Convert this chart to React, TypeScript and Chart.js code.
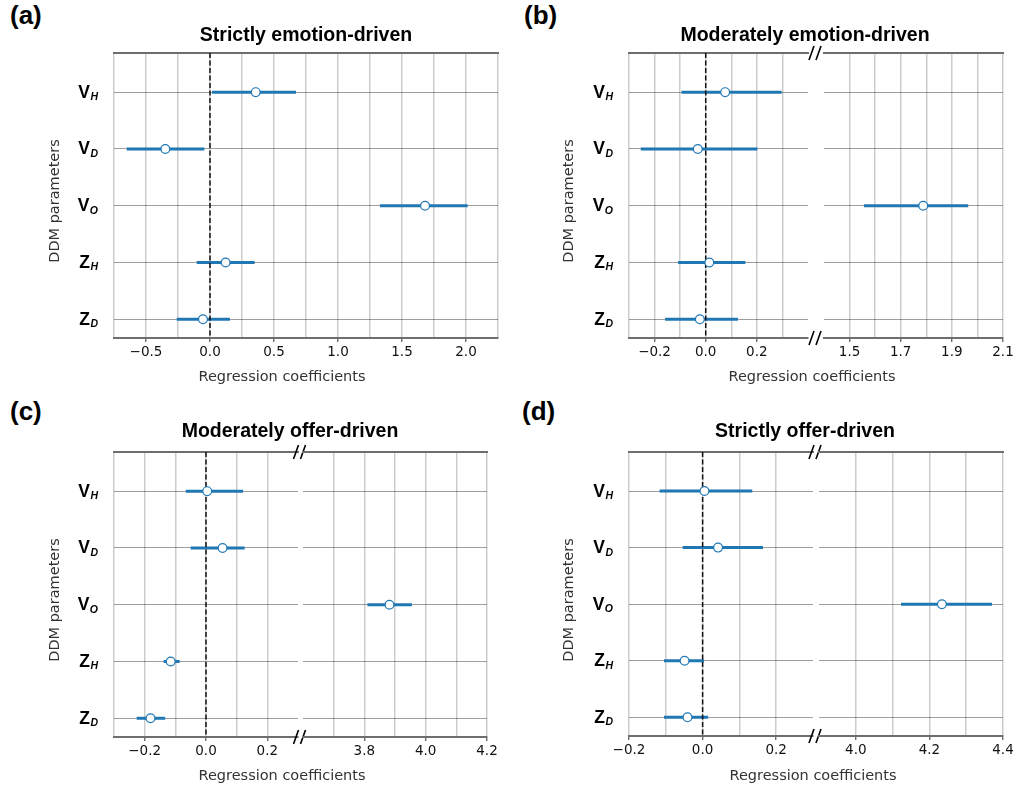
import React, { useEffect, useRef } from 'react';
import { Chart, registerables } from 'chart.js';

Chart.register(...registerables);

// ---------------- data ----------------
const paramMain = ['V', 'V', 'V', 'Z', 'Z'];
const paramSub = ['H', 'D', 'O', 'H', 'D'];

// (a) Strictly emotion-driven
const estA = [0.357, -0.349, 1.68, 0.122, -0.055];
const loA = [0.016, -0.651, 1.328, -0.104, -0.26];
const hiA = [0.672, -0.044, 2.013, 0.349, 0.156];
// (b) Moderately emotion-driven
const estB = [0.076, -0.031, 1.788, 0.014, -0.023];
const loB = [-0.095, -0.254, 1.556, -0.108, -0.159];
const hiB = [0.297, 0.202, 1.964, 0.155, 0.126];
// (c) Moderately offer-driven
const estC = [0.004, 0.054, 3.882, -0.115, -0.181];
const loC = [-0.066, -0.05, 3.81, -0.138, -0.226];
const hiC = [0.121, 0.126, 3.955, -0.086, -0.133];
// (d) Strictly offer-driven
const estD = [0.005, 0.042, 4.234, -0.049, -0.041];
const loD = [-0.117, -0.054, 4.123, -0.105, -0.105];
const hiD = [0.135, 0.164, 4.37, 0.004, 0.015];

// tick labels
const ticksA = [-0.5, 0.0, 0.5, 1.0, 1.5, 2.0];
const ticksBLeft = [-0.2, 0.0, 0.2];
const ticksBRight = [1.5, 1.7, 1.9, 2.1];
const ticksCLeft = [-0.2, 0.0, 0.2];
const ticksCRight = [3.8, 4.0, 4.2];
const ticksDLeft = [-0.2, 0.0, 0.2];
const ticksDRight = [4.0, 4.2, 4.4];

// axis limits
const Y_MIN = -0.69;
const Y_MAX = 4.33;

const BLUE = '#1f77b4';
const SPINE = '#6e6e6e';
const TICK_FONT = '"DejaVu Sans", sans-serif';
const LABEL_FONT = '"Liberation Sans", Arial, sans-serif';

type Seg = {
  L: number; T: number; R: number; B: number;
  min: number; max: number; step: number;
  labels: number[];
  showY?: boolean;
  breakGap?: number;
  hideEdge?: 'left' | 'right';
};

function fmt(v: number): string {
  if (Math.abs(v) < 1e-9) return '0.0';
  return v.toFixed(1).replace('-', '\u2212');
}

function SegChart({ seg, est, lo, hi }: { seg: Seg; est: number[]; lo: number[]; hi: number[] }) {
  const ref = useRef<HTMLCanvasElement>(null);
  const padL = seg.showY ? 70 : 24;
  const padR = 24;
  const padT = 14;
  const padB = 34;
  const W = seg.R - seg.L + padL + padR;
  const H = seg.B - seg.T + padT + padB;

  useEffect(() => {
    const canvas = ref.current;
    if (!canvas) return;
    const n = Math.round((seg.max - seg.min) / seg.step);
    const gridVals: number[] = [];
    for (let i = 0; i <= n; i++) gridVals.push(+(seg.min + i * seg.step).toFixed(6));
    const isLabel = (v: number) => seg.labels.some((l) => Math.abs(l - v) < 1e-6);
    const isHiddenEdge = (v: number) =>
      (seg.hideEdge === 'right' && Math.abs(v - seg.max) < 1e-6) ||
      (seg.hideEdge === 'left' && Math.abs(v - seg.min) < 1e-6);

    const datasets: any[] = [];
    lo.forEach((l, i) => {
      datasets.push({
        data: [{ x: l, y: i }, { x: hi[i], y: i }],
        showLine: true,
        borderColor: BLUE,
        borderWidth: 3,
        pointRadius: 0,
        clip: 0,
        order: 2,
      });
    });
    datasets.push({
      data: [{ x: 0, y: Y_MIN }, { x: 0, y: Y_MAX }],
      showLine: true,
      borderColor: '#111',
      borderWidth: 1.5,
      borderDash: [5, 2.5],
      pointRadius: 0,
      clip: 0,
      order: 1,
    });
    datasets.push({
      data: est.map((v, i) => ({ x: v, y: i })),
      showLine: false,
      pointRadius: 4.4,
      pointBackgroundColor: '#ffffff',
      pointBorderColor: BLUE,
      pointBorderWidth: 1.2,
      clip: 0,
      order: 0,
    });

    const decor = {
      id: 'decor',
      afterDraw(chart: any) {
        const ctx = chart.ctx;
        const area = chart.chartArea;
        ctx.save();
        if (seg.showY) {
          const ys = chart.scales.y;
          const right = area.left - 16;
          paramMain.forEach((m, i) => {
            const y = ys.getPixelForValue(i);
            ctx.fillStyle = '#000';
            ctx.font = `italic bold 10.5px ${LABEL_FONT}`;
            const sw = ctx.measureText(paramSub[i]).width;
            ctx.textAlign = 'left';
            ctx.textBaseline = 'alphabetic';
            ctx.fillText(paramSub[i], right - sw, y + 8);
            ctx.font = `bold 17.5px ${LABEL_FONT}`;
            ctx.textAlign = 'right';
            ctx.fillText(m, right - sw - 0.5, y + 5.5);
          });
        }
        if (seg.breakGap) {
          const cx = area.right + seg.breakGap / 2 - 1;
          ctx.strokeStyle = '#000';
          ctx.lineWidth = 1.6;
          [area.top, area.bottom].forEach((yy: number) => {
            [-3.5, 3.5].forEach((off) => {
              ctx.beginPath();
              ctx.moveTo(cx + off - 2.5, yy + 7);
              ctx.lineTo(cx + off + 2.5, yy - 7);
              ctx.stroke();
            });
          });
        }
        ctx.restore();
      },
    };

    const chart = new Chart(canvas, {
      type: 'scatter',
      data: { datasets },
      options: {
        responsive: false,
        animation: false,
        events: [],
        layout: { padding: { left: padL, right: padR, top: padT, bottom: 0 } },
        plugins: { legend: { display: false }, tooltip: { enabled: false } },
        scales: {
          x: {
            type: 'linear',
            position: 'bottom',
            min: seg.min,
            max: seg.max,
            afterBuildTicks: (s: any) => {
              s.ticks = gridVals.map((v) => ({ value: v }));
            },
            afterFit: (s: any) => {
              s.height = padB;
            },
            ticks: {
              autoSkip: false,
              maxRotation: 0,
              minRotation: 0,
              padding: 2,
              color: '#111',
              font: { family: TICK_FONT, size: 13.5 },
              callback: (v: any) => (isLabel(Number(v)) ? fmt(Number(v)) : ''),
            },
            grid: {
              color: (c: any) => {
                const v = c.tick ? c.tick.value : NaN;
                if (!isNaN(v) && isHiddenEdge(v)) return 'rgba(0,0,0,0)';
                return 'rgba(0,0,0,0.2)';
              },
              lineWidth: 1.5,
              drawTicks: true,
              tickLength: 4,
              tickWidth: 1.2,
              tickColor: (c: any) => {
                const v = c.tick ? c.tick.value : NaN;
                return !isNaN(v) && isLabel(v) ? '#555' : 'rgba(0,0,0,0)';
              },
            },
            border: { display: true, color: SPINE, width: 2 },
          },
          xTop: {
            type: 'linear',
            position: 'top',
            min: seg.min,
            max: seg.max,
            display: true,
            afterFit: (s: any) => {
              s.height = 0;
            },
            ticks: { display: false },
            grid: { display: false, drawTicks: false },
            border: { display: true, color: SPINE, width: 2 },
          },
          y: {
            type: 'linear',
            position: 'left',
            reverse: true,
            min: Y_MIN,
            max: Y_MAX,
            afterBuildTicks: (s: any) => {
              s.ticks = paramMain.map((_, i) => ({ value: i }));
            },
            afterFit: (s: any) => {
              s.width = 0;
            },
            ticks: { display: false },
            grid: { color: 'rgba(0,0,0,0.38)', lineWidth: 1, drawTicks: false },
            border: { display: false },
          },
        },
      } as any,
      plugins: [decor],
    });
    return () => chart.destroy();
  }, []);

  return (
    <canvas
      ref={ref}
      width={W}
      height={H}
      style={{ position: 'absolute', left: seg.L - padL, top: seg.T - padT, width: W, height: H }}
    />
  );
}

function Text({ x, y, children, style }: { x: number; y: number; children: any; style?: any }) {
  return (
    <div style={{ position: 'absolute', left: x, top: y, whiteSpace: 'nowrap', lineHeight: 1, ...style }}>
      {children}
    </div>
  );
}

function PanelText({ label, lx, ly, title, tx, ty, xcx, xty, ycx, ycy }: any) {
  return (
    <>
      <Text x={lx} y={ly} style={{ font: `bold 26px ${LABEL_FONT}`, color: '#000' }}>{label}</Text>
      <Text x={tx} y={ty} style={{ font: `bold 19.5px ${LABEL_FONT}`, color: '#000', transform: 'translateX(-50%)' }}>{title}</Text>
      <Text x={xcx} y={xty} style={{ font: `14.5px ${TICK_FONT}`, color: '#333', transform: 'translateX(-50%)' }}>Regression coefficients</Text>
      <Text
        x={ycx}
        y={ycy}
        style={{ font: `14.5px ${TICK_FONT}`, color: '#333', transform: 'translate(-50%, -50%) rotate(-90deg)' }}
      >
        DDM parameters
      </Text>
    </>
  );
}

export default function App() {
  const segA: Seg = { L: 114, T: 53, R: 498, B: 338, min: -0.75, max: 2.25, step: 0.25, labels: ticksA, showY: true };
  const segBL: Seg = { L: 629, T: 53, R: 808, B: 338, min: -0.3, max: 0.4, step: 0.1, labels: ticksBLeft, showY: true, breakGap: 16, hideEdge: 'right' };
  const segBR: Seg = { L: 824, T: 53, R: 1003, B: 338, min: 1.4, max: 2.1, step: 0.1, labels: ticksBRight, hideEdge: 'left' };
  const segCL: Seg = { L: 114, T: 452, R: 298, B: 737, min: -0.3, max: 0.3, step: 0.1, labels: ticksCLeft, showY: true, breakGap: 5, hideEdge: 'right' };
  const segCR: Seg = { L: 303, T: 452, R: 487, B: 737, min: 3.6, max: 4.2, step: 0.1, labels: ticksCRight, hideEdge: 'left' };
  const segDL: Seg = { L: 629, T: 452, R: 813, B: 736, min: -0.2, max: 0.3, step: 0.1, labels: ticksDLeft, showY: true, breakGap: 6, hideEdge: 'right' };
  const segDR: Seg = { L: 819, T: 452, R: 1003, B: 736, min: 3.9, max: 4.4, step: 0.1, labels: ticksDRight, hideEdge: 'left' };

  return (
    <div style={{ position: 'absolute', left: 0, top: 0, width: 1015, height: 788, background: '#fff', overflow: 'hidden' }}>
      <SegChart seg={segA} est={estA} lo={loA} hi={hiA} />
      <SegChart seg={segBL} est={estB} lo={loB} hi={hiB} />
      <SegChart seg={segBR} est={estB} lo={loB} hi={hiB} />
      <SegChart seg={segCL} est={estC} lo={loC} hi={hiC} />
      <SegChart seg={segCR} est={estC} lo={loC} hi={hiC} />
      <SegChart seg={segDL} est={estD} lo={loD} hi={hiD} />
      <SegChart seg={segDR} est={estD} lo={loD} hi={hiD} />

      <PanelText label="(a)" lx={10} ly={0} title="Strictly emotion-driven" tx={306} ty={23} xcx={282} xty={368} ycx={54} ycy={201} />
      <PanelText label="(b)" lx={524} ly={0} title="Moderately emotion-driven" tx={805} ty={23} xcx={812} xty={368} ycx={568} ycy={201} />
      <PanelText label="(c)" lx={10} ly={396} title="Moderately offer-driven" tx={290} ty={419} xcx={282} xty={767} ycx={54} ycy={600} />
      <PanelText label="(d)" lx={522} ly={396} title="Strictly offer-driven" tx={805} ty={419} xcx={813} xty={767} ycx={568} ycy={600} />
    </div>
  );
}
